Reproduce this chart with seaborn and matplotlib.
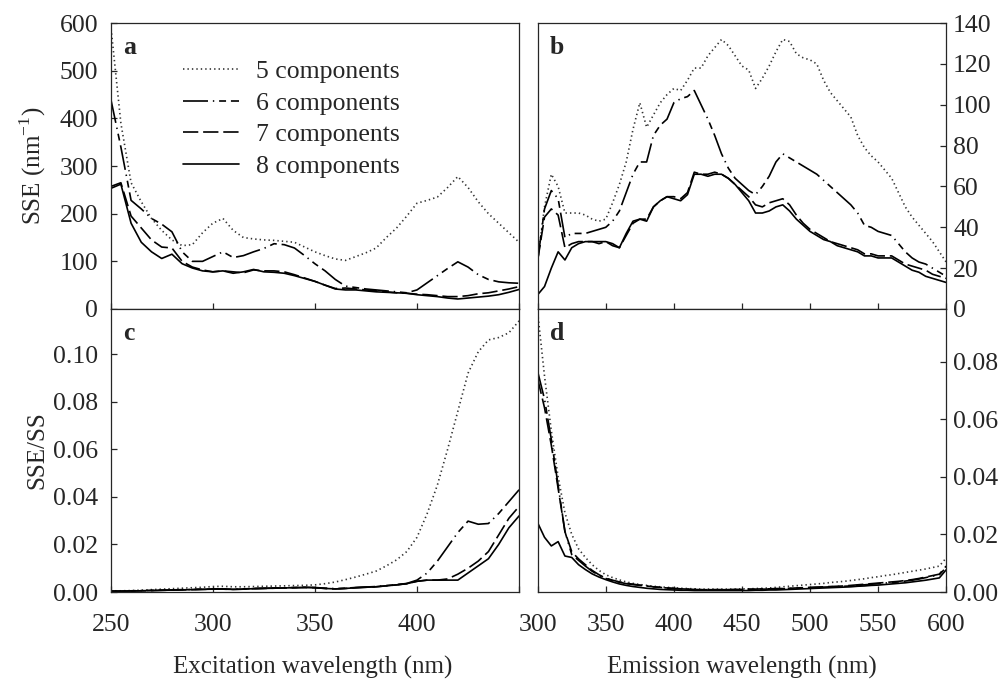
import pandas as pd
import seaborn as sns
import matplotlib
import matplotlib.pyplot as plt

matplotlib.use("Agg")
sns.set_style("ticks")
plt.rcParams['font.family'] = ['Liberation Serif', 'DejaVu Serif']
plt.rcParams['mathtext.fontset'] = 'custom'
plt.rcParams['mathtext.rm'] = 'Liberation Serif'
plt.rcParams['lines.scale_dashes'] = False

labels = ["5 components", "6 components", "7 components", "8 components"]

# excitation wavelengths, 250..450 nm
ex_wl = list(range(250, 451, 5))
# emission wavelengths, 300..600 nm
em_wl = list(range(300, 601, 5))

# panel a: SSE vs excitation
a5 = [597, 390, 265, 225, 190, 165, 145, 133, 135, 160,
      180, 190, 165, 150, 147, 145, 144, 142, 140, 130,
      120, 112, 105, 102, 110, 118, 128, 150, 170, 195,
      222, 228, 235, 255, 278, 255, 225, 200, 180, 160, 140]
a6 = [442, 340, 228, 210, 190, 178, 162, 120, 100, 100,
      110, 120, 108, 112, 120, 127, 137, 135, 128, 112,
      95, 80, 62, 48, 45, 42, 40, 38, 36, 34,
      40, 55, 70, 85, 99, 88, 72, 62, 57, 55, 54]
a7 = [257, 265, 195, 170, 145, 130, 128, 100, 88, 82,
      78, 80, 78, 76, 82, 80, 80, 78, 72, 65,
      58, 50, 43, 44, 42, 40, 38, 36, 34, 33,
      31, 30, 28, 26, 26, 28, 32, 34, 38, 42, 47]
a8 = [253, 262, 180, 140, 120, 106, 115, 95, 86, 80,
      78, 80, 75, 78, 83, 78, 77, 75, 70, 64,
      58, 50, 42, 40, 40, 38, 36, 35, 34, 33,
      30, 28, 26, 23, 21, 23, 25, 27, 30, 35, 41]

# panel b: SSE vs emission
b5 = [24, 50, 66, 60, 47, 47, 47, 46, 44, 43,
      44, 52, 61, 72, 88, 101, 89, 95, 101, 105,
      108, 107, 112, 118, 118, 124, 128, 132, 129, 124,
      119, 117, 108, 113, 119, 126, 132, 131, 125, 123,
      122, 120, 112, 106, 102, 98, 94, 85, 79, 75,
      72, 68, 64, 57, 50, 45, 41, 37, 33, 28, 23]
b6 = [24, 49, 58, 54, 35, 37, 37, 37, 38, 39,
      40, 43, 48, 57, 66, 72, 72, 85, 90, 93,
      101, 103, 104, 107, 100, 93, 85, 76, 69, 64,
      61, 58, 56, 60, 65, 72, 76, 74, 72, 70,
      68, 66, 63, 60, 57, 54, 51, 47, 41, 40,
      38, 37, 36, 32, 28, 25, 23, 22, 20, 18, 16]
b7 = [24, 45, 49, 46, 30, 32, 33, 33, 33, 32,
      33, 31, 30, 36, 42, 44, 44, 50, 53, 55,
      55, 54, 57, 67, 66, 66, 67, 66, 64, 61,
      58, 55, 51, 50, 52, 53, 54, 51, 46, 42,
      39, 37, 35, 33, 32, 31, 30, 29, 27, 27,
      26, 26, 26, 24, 22, 21, 20, 19, 17, 16, 15]
b8 = [7, 11, 20, 28, 24, 30, 32, 33, 33, 33,
      33, 32, 30, 37, 43, 44, 43, 50, 53, 55,
      54, 53, 56, 66, 66, 65, 66, 66, 64, 61,
      57, 53, 47, 47, 48, 50, 51, 48, 44, 41,
      38, 36, 34, 33, 31, 30, 29, 28, 26, 26,
      25, 25, 25, 23, 21, 19, 18, 16, 15, 14, 13]

# panel c: SSE/SS vs excitation
c5 = [0.0005, 0.0005, 0.0006, 0.0008, 0.001, 0.0012, 0.0014, 0.0016, 0.0018, 0.002,
      0.0023, 0.0024, 0.0022, 0.0022, 0.0023, 0.0024, 0.0025, 0.0026, 0.0027, 0.0028,
      0.003, 0.0035, 0.0042, 0.0052, 0.0063, 0.0075, 0.0088, 0.011, 0.0135, 0.017,
      0.023, 0.033, 0.045, 0.06, 0.076, 0.092, 0.101, 0.106, 0.107, 0.109, 0.114]
c6 = [0.0004, 0.0004, 0.0005, 0.0006, 0.0007, 0.0008, 0.0009, 0.001, 0.0011, 0.0012,
      0.0013, 0.0013, 0.0012, 0.0013, 0.0015, 0.0016, 0.0017, 0.0018, 0.0019, 0.002,
      0.0019, 0.0016, 0.0014, 0.0016, 0.0019, 0.0021, 0.0023, 0.0027, 0.0031, 0.0036,
      0.005, 0.008, 0.013, 0.019, 0.025, 0.0298, 0.0285, 0.0288, 0.033, 0.038, 0.043]
c7 = [0.0003, 0.0003, 0.0004, 0.0005, 0.0006, 0.0007, 0.0008, 0.0009, 0.001, 0.0011,
      0.0012, 0.0012, 0.0011, 0.0012, 0.0014, 0.0015, 0.0016, 0.0017, 0.0018, 0.0019,
      0.0018, 0.0015, 0.0013, 0.0015, 0.0018, 0.002, 0.0022, 0.0026, 0.003, 0.0035,
      0.0045, 0.005, 0.005, 0.0055, 0.0075, 0.010, 0.013, 0.017, 0.024, 0.031, 0.036]
c8 = [0.0003, 0.0003, 0.0004, 0.0005, 0.0006, 0.0007, 0.0008, 0.0009, 0.001, 0.0011,
      0.0012, 0.0012, 0.0011, 0.0012, 0.0014, 0.0015, 0.0016, 0.0017, 0.0018, 0.0019,
      0.0018, 0.0015, 0.0013, 0.0015, 0.0018, 0.002, 0.0022, 0.0026, 0.003, 0.0035,
      0.0045, 0.005, 0.005, 0.005, 0.005, 0.008, 0.011, 0.014, 0.020, 0.027, 0.032]

# panel d: SSE/SS vs emission
d5 = [0.097, 0.075, 0.056, 0.040, 0.0275, 0.020, 0.015, 0.012, 0.0095, 0.0075,
      0.006, 0.005, 0.0042, 0.0035, 0.003, 0.0026, 0.0023, 0.002, 0.0018, 0.0016,
      0.0015, 0.0013, 0.0012, 0.0011, 0.001, 0.001, 0.001, 0.001, 0.001, 0.001,
      0.0011, 0.0011, 0.0012, 0.0013, 0.0014, 0.0016, 0.0018, 0.002, 0.0022, 0.0024,
      0.0026, 0.0028, 0.003, 0.0033, 0.0035, 0.0037, 0.004, 0.0043, 0.0046, 0.005,
      0.0053, 0.0057, 0.006, 0.0064, 0.0068, 0.0072, 0.0076, 0.008, 0.0085, 0.009, 0.0118]
d6 = [0.0765, 0.067, 0.053, 0.037, 0.021, 0.013, 0.011, 0.009, 0.0072, 0.0058,
      0.0047, 0.004, 0.0034, 0.0029, 0.0026, 0.0023, 0.0021, 0.0018, 0.0016, 0.0014,
      0.0012, 0.0011, 0.001, 0.0009, 0.0008, 0.0008, 0.0008, 0.0008, 0.0008, 0.0008,
      0.0009, 0.0009, 0.0009, 0.001, 0.001, 0.001, 0.0011, 0.0012, 0.0013, 0.0014,
      0.0015, 0.0016, 0.0017, 0.0018, 0.0019, 0.002, 0.0021, 0.0023, 0.0025, 0.0027,
      0.0029, 0.0031, 0.0033, 0.0035, 0.0038, 0.0041, 0.0045, 0.005, 0.0055, 0.006, 0.0085]
d7 = [0.074, 0.064, 0.051, 0.036, 0.021, 0.014, 0.0115, 0.0095, 0.0075, 0.006,
      0.0048, 0.0041, 0.0035, 0.003, 0.0027, 0.0024, 0.0021, 0.0018, 0.0016, 0.0014,
      0.0012, 0.0011, 0.001, 0.0009, 0.0008, 0.0008, 0.0008, 0.0008, 0.0008, 0.0009,
      0.0009, 0.001, 0.001, 0.0011, 0.0011, 0.0012, 0.0012, 0.0013, 0.0014, 0.0015,
      0.0016, 0.0017, 0.0018, 0.0019, 0.002, 0.0021, 0.0023, 0.0025, 0.0027, 0.0029,
      0.0031, 0.0033, 0.0035, 0.0037, 0.004, 0.0043, 0.0047, 0.0052, 0.0057, 0.0062, 0.009]
d8 = [0.024, 0.019, 0.016, 0.0175, 0.0125, 0.012, 0.0095, 0.0078, 0.0063, 0.0052,
      0.0043, 0.0035, 0.0028, 0.0023, 0.0019, 0.0016, 0.0013, 0.0011, 0.0009, 0.0008,
      0.0007, 0.0006, 0.0006, 0.0005, 0.0005, 0.0005, 0.0005, 0.0005, 0.0005, 0.0005,
      0.0005, 0.0005, 0.0006, 0.0006, 0.0007, 0.0007, 0.0008, 0.0009, 0.001, 0.0011,
      0.0012, 0.0013, 0.0014, 0.0015, 0.0016, 0.0017, 0.0018, 0.002, 0.0021, 0.0023,
      0.0024, 0.0026, 0.0028, 0.003, 0.0032, 0.0035, 0.0038, 0.0041, 0.0045, 0.0049, 0.0077]

line_colors = {labels[0]: "#333333", labels[1]: "black", labels[2]: "black", labels[3]: "black"}
line_dashes = {labels[0]: (1, 2.2), labels[1]: (18, 3.5, 1, 3.5, 5, 3.5),
               labels[2]: (11, 3.5), labels[3]: ""}

font_size = 18.5


def make_df(wl, series):
    frames = []
    for lab, vals in zip(labels, series):
        frames.append(pd.DataFrame({"wl": wl, "val": vals, "n": lab}))
    return pd.concat(frames, ignore_index=True)


fig = plt.figure(figsize=(10.06, 6.8), dpi=100)
left_x, right_x, pw = 0.110, 0.5345, 0.406
bot_y, mid_y, ph_top, ph_bot = 0.1294, 0.5456, 0.4204, 0.4162
ax_a = fig.add_axes([left_x, mid_y, pw, ph_top])
ax_b = fig.add_axes([right_x, mid_y, pw, ph_top])
ax_c = fig.add_axes([left_x, bot_y, pw, ph_bot])
ax_d = fig.add_axes([right_x, bot_y, pw, ph_bot])

panels = [(ax_a, ex_wl, [a5, a6, a7, a8], "a"),
          (ax_b, em_wl, [b5, b6, b7, b8], "b"),
          (ax_c, ex_wl, [c5, c6, c7, c8], "c"),
          (ax_d, em_wl, [d5, d6, d7, d8], "d")]

for ax, wl, series, tag in panels:
    df = make_df(wl, series)
    sns.lineplot(ax=ax, data=df, x="wl", y="val", hue="n", style="n",
                 palette=line_colors, dashes=line_dashes, linewidth=1.2,
                 estimator=None, sort=False, legend=(tag == "a"))
    ax.text(0.03, 0.915, tag, transform=ax.transAxes, fontsize=font_size,
            fontweight="bold", va="center", ha="left")
    ax.set_xlabel("")
    ax.set_ylabel("")
    for sp in ax.spines.values():
        sp.set_linewidth(0.9)
        sp.set_visible(True)
    ax.tick_params(direction="in", length=4, width=0.9, labelsize=font_size)
    ax.tick_params(axis="x", pad=16)
    ax.tick_params(axis="y", pad=9)

# x axes
for ax in (ax_a, ax_c):
    ax.set_xlim(250, 450)
    ax.set_xticks([250, 300, 350, 400, 450])
    ax.set_xticklabels(["250", "300", "350", "400", ""])
for ax in (ax_b, ax_d):
    ax.set_xlim(300, 600)
    ax.set_xticks([300, 350, 400, 450, 500, 550, 600])
for ax in (ax_a, ax_b):
    ax.tick_params(axis="x", labelbottom=False)

# y axes
ax_a.set_ylim(0, 600)
ax_a.set_yticks(range(0, 601, 100))
ax_c.set_ylim(0, 0.119)
ax_c.set_yticks([0, 0.02, 0.04, 0.06, 0.08, 0.10])
ax_c.set_yticklabels(["0.00", "0.02", "0.04", "0.06", "0.08", "0.10"])
ax_b.set_ylim(0, 140)
ax_b.set_yticks(range(0, 141, 20))
ax_d.set_ylim(0, 0.0983)
ax_d.set_yticks([0, 0.02, 0.04, 0.06, 0.08])
ax_d.set_yticklabels(["0.00", "0.02", "0.04", "0.06", "0.08"])
for ax in (ax_b, ax_d):
    ax.yaxis.tick_right()
    ax.tick_params(axis="y", direction="in", length=4, width=0.9, labelsize=font_size, pad=5)

ax_a.set_ylabel("SSE (nm$^{-1}$)", fontsize=18)
ax_a.yaxis.set_label_coords(-0.153, 0.5)
ax_c.set_ylabel("SSE/SS", fontsize=18)
ax_c.yaxis.set_label_coords(-0.153, 0.5)

fig.text(0.311, 0.019, "Excitation wavelength (nm)", fontsize=18, ha="center", va="center")
fig.text(0.737, 0.019, "Emission wavelength (nm)", fontsize=18, ha="center", va="center")

handles, labs = ax_a.get_legend_handles_labels()
ax_a.legend(handles, labs, loc="upper left", bbox_to_anchor=(0.178, 0.87),
            frameon=False, fontsize=font_size, handlelength=2.15, handletextpad=0.66,
            labelspacing=0.33, borderpad=0, borderaxespad=0)

fig.savefig("out.png", dpi=100)
